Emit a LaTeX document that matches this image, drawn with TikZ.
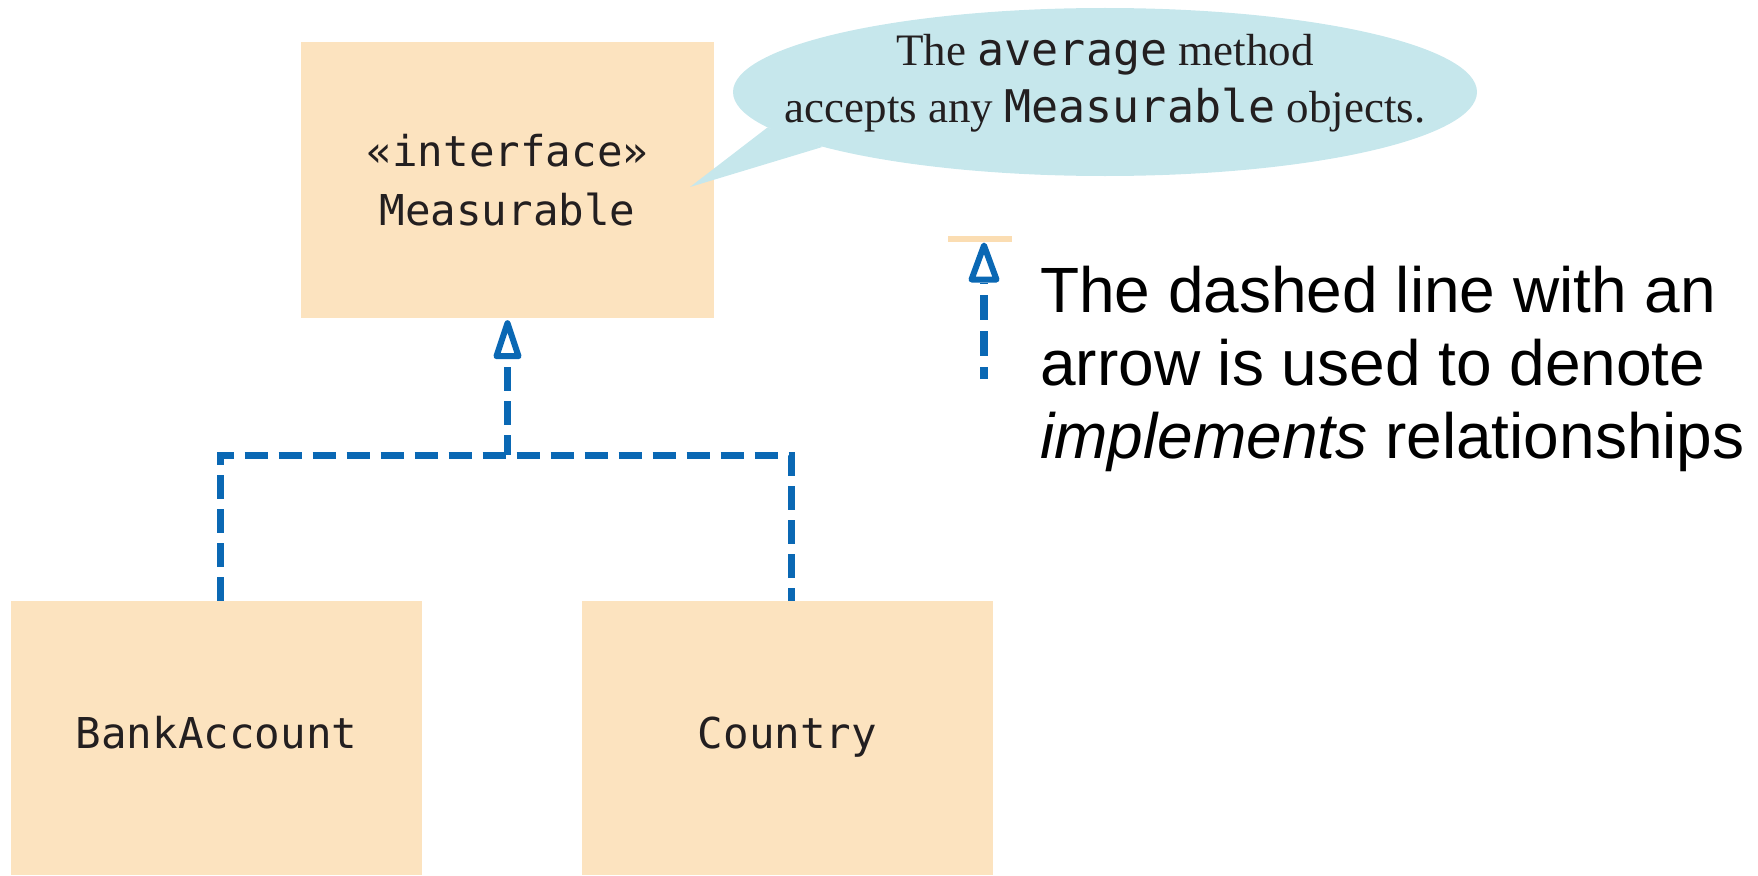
\documentclass[tikz,border=0pt]{standalone}
\usepackage{fontspec}
\setmainfont{Liberation Serif}
\newfontfamily\arialfont{Liberation Sans}
\newfontfamily\monofont{DejaVu Sans Mono}
\usetikzlibrary{shapes.geometric}
\definecolor{boxfill}{HTML}{FCE3BF}
\definecolor{barfill}{HTML}{FBDDB2}
\definecolor{bubblefill}{HTML}{C6E7EC}
\definecolor{implblue}{HTML}{0A68B4}
\definecolor{inkdark}{HTML}{231F20}
\begin{document}
\begin{tikzpicture}[x=1pt,y=-1pt,
  classbox/.style={draw=none, fill=boxfill, rectangle, inner sep=0pt, text=inkdark,
    font=\monofont\fontsize{42.5}{59}\selectfont, align=center},
  impl/.style={draw=implblue, line width=7pt, dash pattern=on 23.5pt off 10.5pt},
  openhead/.style={draw=implblue, fill=white, line width=6pt, line join=round},
]
\useasboundingbox (0,0) rectangle (1758,875);

% class boxes
\node[classbox, minimum width=413pt, minimum height=276pt] (meas) at (507.5,180) {«interface»\\Measurable};
\node[classbox, minimum width=411pt, minimum height=274pt, text height=32pt, text depth=12pt] (bank) at (216.5,738) {BankAccount};
\node[classbox, minimum width=411pt, minimum height=274pt, text height=32pt, text depth=12pt] (country) at (787.5,738) {Country};

% speech bubble
\node[ellipse, fill=bubblefill, draw=none, minimum width=744pt, minimum height=168pt, inner sep=0pt] (bubble) at (1105,92) {};
\coordinate (tailtip) at (690,187);
\fill[bubblefill] (tailtip) -- (bubble.186) -- (bubble.191) -- cycle;
\node[font=\fontsize{45}{57}\selectfont, text=inkdark, align=center, inner sep=0pt] (note) at (1105,83)
  {The {\monofont average} method\\accepts any {\monofont Measurable} objects.};

% implements connectors
\coordinate (mid) at (507.5,455);
\draw[impl] ([xshift=4pt]bank.north) |- (mid) -| ([xshift=4pt]country.north);
\draw[impl, dash phase=3.5pt, shorten >=41pt] (mid) -- (meas.south);
\draw[openhead] ([yshift=-5pt]meas.south) -- ++(-11,33) -- ++(22,0) -- cycle;

% legend
\coordinate (barL) at (948,239);
\coordinate (barR) at (1012,239);
\draw[barfill, line width=6pt] (barL) -- (barR);
\coordinate (legtop) at (984,242);
\coordinate (legbot) at (984,379);
\draw[impl, line width=8pt, dash pattern=on 24.5pt off 11.5pt, dash phase=12.5pt, shorten >=41pt] (legbot) -- (legtop);
\draw[openhead] ([yshift=-3.5pt]legtop) -- ++(-12.5,34) -- ++(25,0) -- cycle;

\node[font=\arialfont\fontsize{64}{73}\selectfont, text=black, align=left, anchor=north west, inner sep=0pt] (expl) at (1040,266)
  {The dashed line with an\\arrow is used to denote\\\textit{implements} relationships};
\end{tikzpicture}
\end{document}
